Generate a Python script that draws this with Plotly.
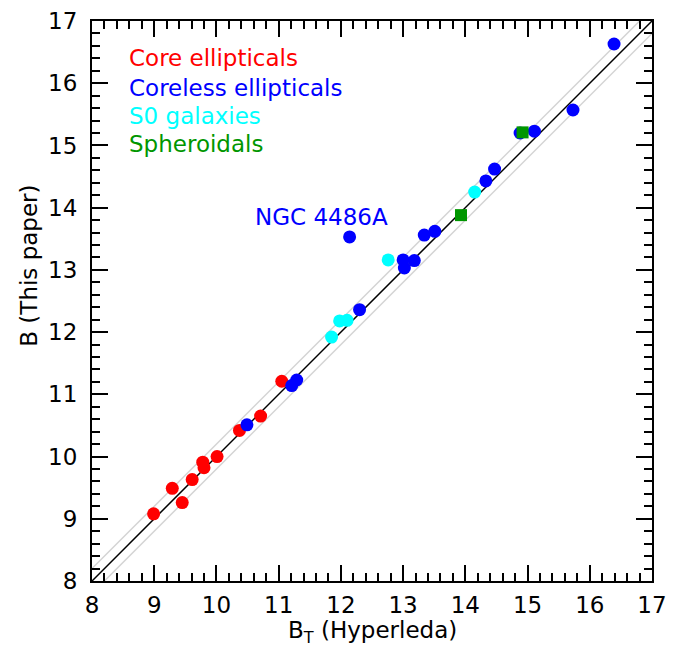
import plotly.graph_objects as go

# ---- data (B_T Hyperleda, B this paper) ----
core_x = [8.99, 9.29, 9.45, 9.61, 9.78, 9.80, 10.01, 10.37, 10.71, 11.05]
core_y = [9.08, 9.49, 9.26, 9.63, 9.91, 9.82, 10.00, 10.42, 10.65, 11.21]

coreless_x = [10.49, 11.21, 11.29, 12.14, 12.30, 13.00, 13.02, 13.18, 13.34, 13.51,
              14.33, 14.47, 14.88, 15.11, 15.73, 16.39]
coreless_y = [10.51, 11.14, 11.23, 13.53, 12.36, 13.16, 13.03, 13.15, 13.56, 13.62,
              14.43, 14.62, 15.20, 15.23, 15.57, 16.63]

s0_x = [11.85, 11.98, 12.10, 12.76, 14.15]
s0_y = [11.92, 12.18, 12.19, 13.16, 14.25]

sph_x = [13.93, 14.92]
sph_y = [13.88, 15.21]

line_range = [8, 17]
band = 0.2

tick_vals = list(range(8, 18))
tick_text = [str(v) for v in tick_vals]

FONT = "DejaVu Sans"

fig = go.Figure()

# 1:1 line and +/- band
fig.add_trace(go.Scatter(x=line_range, y=[v + band for v in line_range], mode="lines",
                         line=dict(color="#d4d4d4", width=1.5), showlegend=False, hoverinfo="skip"))
fig.add_trace(go.Scatter(x=line_range, y=[v - band for v in line_range], mode="lines",
                         line=dict(color="#d4d4d4", width=1.5), showlegend=False, hoverinfo="skip"))
fig.add_trace(go.Scatter(x=line_range, y=line_range, mode="lines",
                         line=dict(color="black", width=1.5), showlegend=False, hoverinfo="skip"))

fig.add_trace(go.Scatter(x=core_x, y=core_y, mode="markers", name="Core ellipticals",
                         marker=dict(color="#ff0000", size=13, symbol="circle")))
fig.add_trace(go.Scatter(x=coreless_x, y=coreless_y, mode="markers", name="Coreless ellipticals",
                         marker=dict(color="#0000ff", size=13, symbol="circle")))
fig.add_trace(go.Scatter(x=s0_x, y=s0_y, mode="markers", name="S0 galaxies",
                         marker=dict(color="#00ffff", size=13, symbol="circle")))
fig.add_trace(go.Scatter(x=sph_x, y=sph_y, mode="markers", name="Spheroidals",
                         marker=dict(color="#009600", size=12, symbol="square")))

axis_common = dict(
    range=line_range, showline=True, linecolor="black", linewidth=2, mirror="ticks",
    ticks="inside", ticklen=16, tickwidth=2, tickcolor="black",
    tickvals=tick_vals, ticktext=tick_text, showgrid=False, zeroline=False,
    automargin=False,
    tickfont=dict(family=FONT, size=23, color="black"),
    minor=dict(ticks="inside", ticklen=8, tickwidth=1.5, tickcolor="black", dtick=0.2,
               tick0=8, showgrid=False),
)

fig.update_xaxes(**axis_common, ticklabelstandoff=2)
fig.update_yaxes(**axis_common, ticklabelstandoff=8)

legend_items = [("Core ellipticals", "#ff0000"), ("Coreless ellipticals", "#0000ff"),
                ("S0 galaxies", "#00ffff"), ("Spheroidals", "#009600")]
legend_y = [16.40, 15.93, 15.48, 15.03]
annotations = []
for (txt, col), yy in zip(legend_items, legend_y):
    annotations.append(dict(x=8.56, y=yy, xref="x", yref="y", text=txt, showarrow=False,
                            xanchor="left", yanchor="middle",
                            font=dict(family=FONT, size=23, color=col)))
annotations.append(dict(x=11.69, y=13.85, xref="x", yref="y", text="NGC 4486A", showarrow=False,
                        xanchor="center", yanchor="middle",
                        font=dict(family=FONT, size=23, color="#0000ff")))
annotations.append(dict(x=0.5, y=-0.091, xref="paper", yref="paper",
                        text="B<sub>T</sub> (Hyperleda)", showarrow=False,
                        xanchor="center", yanchor="middle",
                        font=dict(family=FONT, size=23, color="black")))
annotations.append(dict(x=-0.113, y=0.5625, xref="paper", yref="paper",
                        text="B (This paper)", showarrow=False, textangle=-90,
                        xanchor="center", yanchor="middle",
                        font=dict(family=FONT, size=23, color="black")))

# page body has an 8px default margin: size/position compensate for it
fig.update_layout(
    width=673, height=640,
    margin=dict(l=84, r=29, t=13, b=67, pad=0, autoexpand=False),
    paper_bgcolor="white", plot_bgcolor="white",
    showlegend=False,
    annotations=annotations,
)

fig.write_html("out.html")
